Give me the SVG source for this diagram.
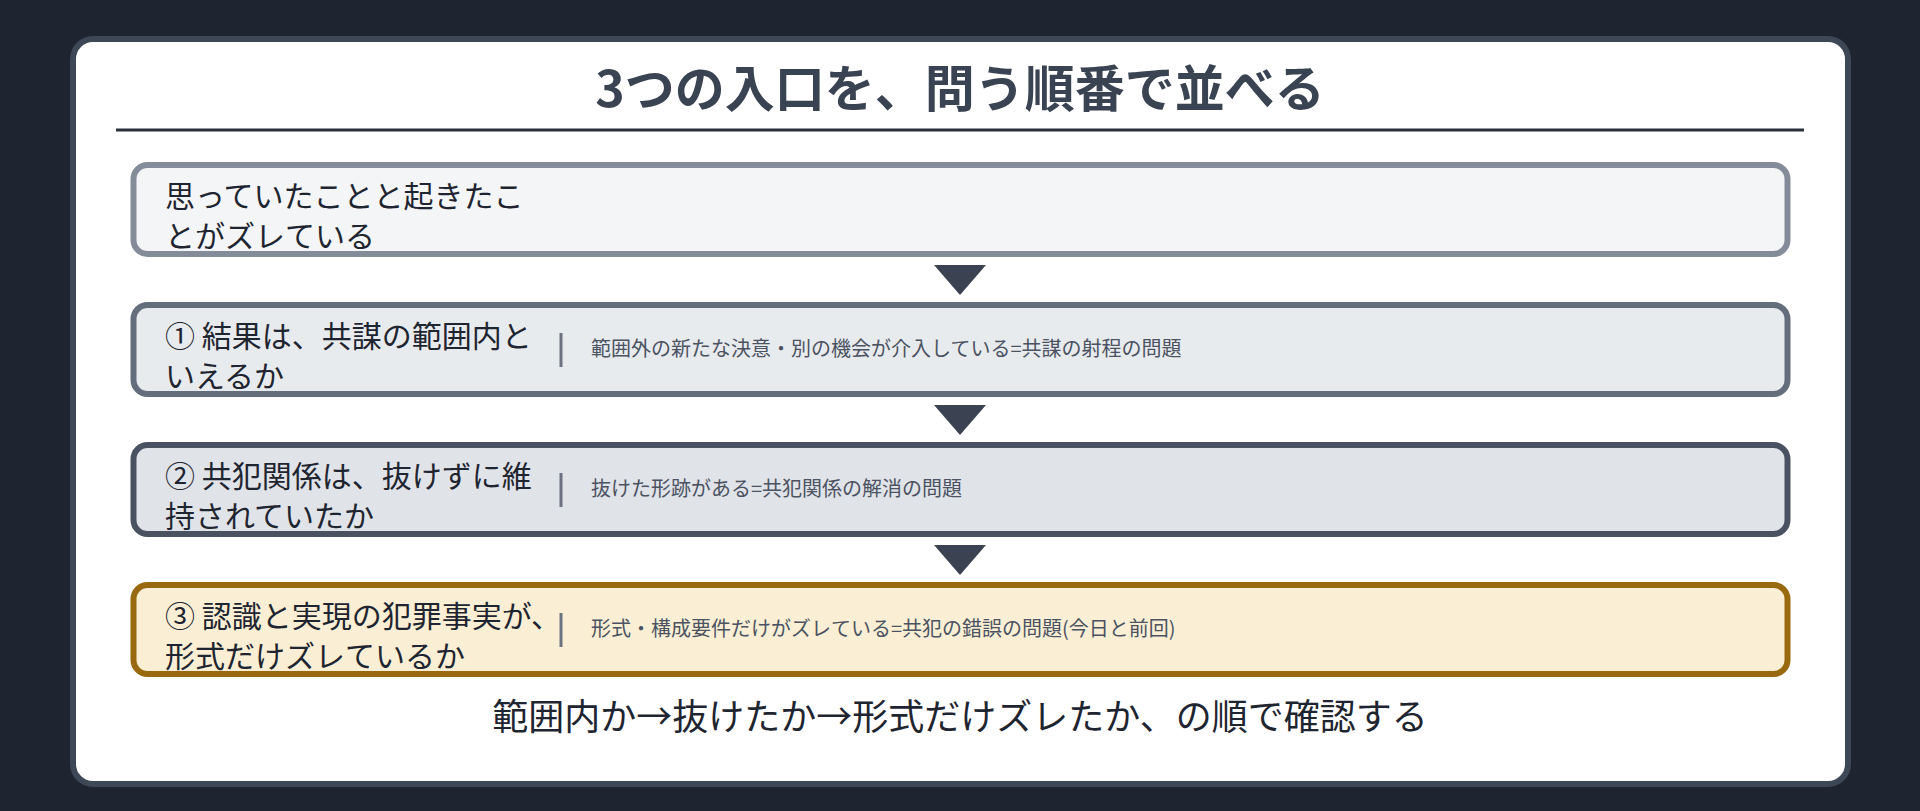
<svg xmlns="http://www.w3.org/2000/svg" width="1920" height="811" viewBox="0 0 1920 811">
<style>
.main{font-family:"Noto Sans CJK JP","Noto Sans",sans-serif;font-size:30px;fill:#1f2530}
.sub{font-family:"Noto Sans CJK JP","Noto Sans",sans-serif;font-size:20px;fill:#4b5261}
.sep{stroke:#6b7280;stroke-width:3}
.box{stroke-width:6}
.arrow{fill:#3b4352}
</style>
<rect x="0" y="0" width="1920" height="811" fill="#1f2530"/>
<rect x="73" y="39" width="1775" height="745" rx="20" fill="#ffffff" stroke="#3d4756" stroke-width="6"/>
<g id="title">
<text x="960" y="107" text-anchor="middle" font-family="'Noto Sans CJK JP','Noto Sans',sans-serif" font-size="50" font-weight="bold" fill="#3a4352">3つの入口を、問う順番で並べる</text>
<line x1="116" y1="130" x2="1804" y2="130" stroke="#2b313c" stroke-width="3"/>
</g>
<g id="connectors">
<polygon class="arrow" points="934,265 986,265 960,295"/>
<polygon class="arrow" points="934,405 986,405 960,435"/>
<polygon class="arrow" points="934,545 986,545 960,575"/>
</g>
<g id="node0">
<rect class="box" x="133.5" y="165" width="1654" height="89" rx="14" fill="#f4f5f7" stroke="#848c99"/>
<text class="main" x="165" y="207">思っていたことと起きたこ</text>
<text class="main" x="165" y="247">とがズレている</text>
</g>
<g id="node1">
<rect class="box" x="133.5" y="305" width="1654" height="89" rx="14" fill="#e8ebee" stroke="#646d7c"/>
<text class="main" x="165" y="347">① 結果は、共謀の範囲内と</text>
<text class="main" x="165" y="387">いえるか</text>
<line class="sep" x1="561" y1="333" x2="561" y2="367"/>
<text class="sub" x="591" y="356">範囲外の新たな決意・別の機会が介入している=共謀の射程の問題</text>
</g>
<g id="node2">
<rect class="box" x="133.5" y="445" width="1654" height="89" rx="14" fill="#e0e3e8" stroke="#4a5262"/>
<text class="main" x="165" y="487">② 共犯関係は、抜けずに維</text>
<text class="main" x="165" y="527">持されていたか</text>
<line class="sep" x1="561" y1="473" x2="561" y2="507"/>
<text class="sub" x="591" y="496">抜けた形跡がある=共犯関係の解消の問題</text>
</g>
<g id="node3">
<rect class="box" x="133.5" y="585" width="1654" height="89" rx="14" fill="#faefd4" stroke="#98690e"/>
<text class="main" x="165" y="627">③ 認識と実現の犯罪事実が、</text>
<text class="main" x="165" y="667">形式だけズレているか</text>
<line class="sep" x1="561" y1="613" x2="561" y2="647"/>
<text class="sub" x="591" y="636">形式・構成要件だけがズレている=共犯の錯誤の問題(今日と前回)</text>
</g>
<g id="footer">
<text x="960" y="730" text-anchor="middle" font-family="'Noto Sans CJK JP','Noto Sans',sans-serif" font-size="36" fill="#1f2530">範囲内か→抜けたか→形式だけズレたか、の順で確認する</text>
</g>
</svg>
